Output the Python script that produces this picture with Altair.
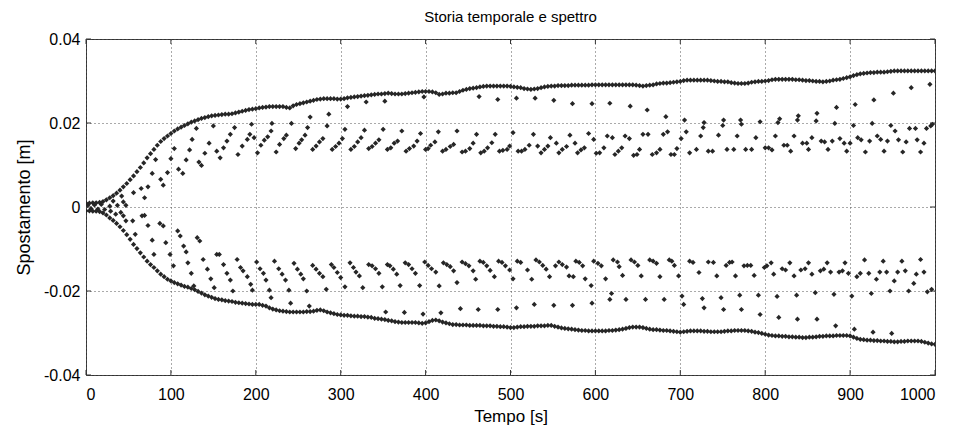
import altair as alt
import pandas as pd

TITLE = "Storia temporale e spettro"
X_TITLE = "Tempo [s]"
Y_TITLE = "Spostamento [m]"
X_TICKS = [0, 100, 200, 300, 400, 500, 600, 700, 800, 900, 1000]
Y_TICKS = [-0.04, -0.02, 0, 0.02, 0.04]

# envelope samples: one every 4 s from 0 to 1000 s, values in mm
ENV_STEP_S = 4
UPPER_ENV_MM = [
    0.9, 0.9, 1.0, 1.0, 1.1, 1.3, 1.7, 2.2, 2.7, 3.3,
    4.0, 4.8, 5.6, 6.5, 7.4, 8.4, 9.4, 10.5, 11.7, 12.7,
    13.7, 14.7, 15.6, 16.3, 16.9, 17.5, 18.1, 18.6, 19.0, 19.4,
    19.8, 20.2, 20.5, 20.8, 21.1, 21.3, 21.5, 21.7, 21.8, 21.9,
    22.0, 22.1, 22.1, 22.2, 22.4, 22.6, 22.8, 23.0, 23.2, 23.3,
    23.4, 23.6, 23.7, 23.8, 23.9, 23.9, 23.9, 23.9, 23.9, 23.7,
    23.6, 24.1, 24.4, 24.6, 24.8, 25.0, 25.2, 25.4, 25.6, 25.7,
    25.8, 25.8, 25.8, 25.8, 25.7, 25.7, 25.8, 26.0, 26.1, 26.2,
    26.3, 26.4, 26.5, 26.6, 26.7, 26.8, 26.9, 26.9, 27.0, 27.1,
    27.0, 26.9, 26.9, 26.9, 27.0, 27.1, 27.2, 27.3, 27.4, 27.5,
    27.5, 27.5, 27.4, 27.2, 26.8, 26.9, 27.1, 27.1, 27.2, 27.2,
    27.5, 27.8, 28.0, 28.2, 28.3, 28.4, 28.6, 28.7, 28.8, 28.8,
    28.8, 28.8, 28.8, 28.8, 28.8, 28.7, 28.6, 28.5, 28.4, 28.2,
    28.1, 28.0, 28.1, 28.2, 28.4, 28.6, 28.7, 28.8, 28.8, 28.9,
    28.9, 28.9, 28.9, 29.0, 29.0, 29.0, 29.0, 29.0, 29.0, 29.1,
    29.1, 29.1, 29.1, 29.1, 29.1, 29.1, 29.1, 29.1, 29.1, 29.1,
    29.1, 29.1, 29.0, 28.9, 28.8, 28.9, 29.0, 29.1, 29.3, 29.4,
    29.5, 29.5, 29.6, 29.7, 29.8, 29.9, 30.1, 30.2, 30.2, 30.2,
    30.2, 30.2, 30.2, 30.2, 30.1, 30.0, 29.9, 29.9, 29.8, 29.8,
    29.6, 29.5, 29.4, 29.4, 29.4, 29.5, 29.7, 29.8, 29.9, 29.9,
    30.0, 30.1, 30.3, 30.4, 30.4, 30.4, 30.4, 30.4, 30.4, 30.3,
    30.3, 30.2, 30.1, 30.1, 30.0, 29.9, 29.9, 29.8, 29.9, 30.0,
    30.2, 30.3, 30.4, 30.6, 30.8, 31.0, 31.3, 31.5, 31.7, 31.8,
    31.9, 32.0, 32.0, 32.1, 32.1, 32.1, 32.2, 32.3, 32.4, 32.4,
    32.4, 32.4, 32.4, 32.4, 32.4, 32.4, 32.4, 32.4, 32.4, 32.4,
    32.4,
]
LOWER_ENV_MM = [
    -0.9, -0.9, -1.0, -1.0, -1.1, -1.4, -1.9, -2.6, -3.2, -3.9,
    -4.7, -5.6, -6.6, -7.7, -8.9, -9.9, -10.9, -11.9, -12.9, -13.7,
    -14.4, -15.2, -16.0, -16.6, -17.2, -17.6, -18.0, -18.3, -18.6, -18.9,
    -19.1, -19.4, -19.7, -20.1, -20.5, -20.9, -21.2, -21.5, -21.8, -22.0,
    -22.1, -22.3, -22.4, -22.5, -22.7, -22.8, -22.9, -23.0, -23.1, -23.2,
    -23.2, -23.2, -23.4, -23.6, -24.0, -24.3, -24.5, -24.7, -24.8, -24.9,
    -25.0, -25.0, -25.0, -25.0, -25.0, -24.9, -24.9, -24.8, -24.6, -24.5,
    -24.7, -25.0, -25.2, -25.4, -25.6, -25.7, -25.8, -25.8, -25.9, -26.0,
    -26.0, -26.1, -26.1, -26.2, -26.3, -26.5, -26.6, -26.7, -26.8, -27.0,
    -27.1, -27.3, -27.4, -27.5, -27.5, -27.5, -27.5, -27.5, -27.6, -27.7,
    -27.6, -27.3, -27.0, -26.9, -27.1, -27.4, -27.6, -27.8, -28.0, -28.0,
    -28.1, -28.1, -28.1, -28.2, -28.2, -28.2, -28.2, -28.3, -28.3, -28.3,
    -28.4, -28.4, -28.5, -28.5, -28.6, -28.7, -28.7, -28.6, -28.5, -28.5,
    -28.4, -28.4, -28.4, -28.3, -28.3, -28.3, -28.2, -28.2, -28.4, -28.6,
    -28.8, -28.9, -29.0, -29.1, -29.2, -29.3, -29.4, -29.4, -29.5, -29.5,
    -29.5, -29.5, -29.5, -29.5, -29.4, -29.4, -29.3, -29.2, -29.1, -28.9,
    -28.7, -28.6, -28.6, -28.6, -28.7, -28.9, -29.1, -29.2, -29.2, -29.3,
    -29.4, -29.4, -29.5, -29.6, -29.7, -29.8, -29.7, -29.6, -29.5, -29.5,
    -29.5, -29.5, -29.6, -29.6, -29.7, -29.7, -29.7, -29.7, -29.6, -29.5,
    -29.5, -29.4, -29.4, -29.4, -29.4, -29.5, -29.6, -29.8, -29.9, -30.1,
    -30.3, -30.5, -30.6, -30.7, -30.7, -30.8, -30.8, -30.9, -30.9, -31.0,
    -31.0, -31.1, -31.1, -31.0, -31.0, -30.9, -30.8, -30.8, -30.7, -30.7,
    -30.7, -30.6, -30.6, -30.6, -30.6, -30.7, -31.0, -31.3, -31.5, -31.6,
    -31.7, -31.7, -31.8, -31.8, -31.9, -31.9, -32.0, -32.0, -32.1, -32.1,
    -32.0, -32.0, -31.9, -31.9, -31.9, -31.9, -32.0, -32.2, -32.4, -32.6,
    -32.7,
]

# scattered inner points (time s, displacement mm)
UPPER_BAND_0_200 = [
    (2, 0.4), (10, 0.5), (18, 0.6),
    (28, 0.2), (32, 1.4), (37, 0.4), (42, 2.6), (44, 1.2), (47, 0.4), (56, 3.4), (65, 4.4),
    (69, 2.2), (73, 4.8), (78, 8.0), (82, 11.3), (88, 6.6), (91, 5.2), (96, 8.2), (100, 11.5),
    (104, 13.9), (109, 9.0), (114, 8.0), (118, 11.2), (122, 13.6), (125, 16.1), (130, 18.7),
    (133, 10.7), (136, 9.9), (140, 12.8), (145, 15.2), (150, 19.3), (154, 13.3), (158, 11.7),
    (162, 14.1), (166, 15.7), (170, 17.3), (175, 18.9), (179, 12.5), (184, 14.5), (190, 16.1),
    (193, 17.3), (195, 19.7), (198, 16.5),
]
UPPER_BAND_200_400 = [
    (202, 12.9), (206, 14.7), (210, 15.9), (214, 16.7), (218, 18.1), (219, 19.9), (224, 13.1),
    (228, 14.9), (233, 16.3), (236, 17.1), (242, 19.9), (247, 13.9), (251, 15.2), (254, 16.0),
    (258, 17.1), (261, 18.9), (264, 21.4), (267, 13.7), (271, 14.5), (275, 15.5), (279, 16.3),
    (284, 19.3), (286, 22.1), (290, 13.7), (294, 14.4), (298, 15.2), (302, 16.3), (305, 18.5),
    (308, 23.9), (312, 13.7), (316, 14.4), (320, 15.5), (324, 16.5), (328, 18.3), (330, 25.0),
    (333, 13.9), (337, 14.4), (341, 15.2), (345, 16.0), (350, 18.5), (352, 25.2), (355, 13.7),
    (359, 14.1), (363, 15.2), (367, 15.7), (372, 18.1), (377, 13.3), (381, 13.9), (386, 14.5),
    (390, 15.7), (394, 17.5), (398, 26.2),
]
UPPER_BAND_400_600 = [
    (400, 13.7), (403, 13.9), (406, 14.7), (411, 15.5), (415, 17.9), (420, 13.3), (424, 13.7),
    (429, 14.4), (433, 14.9), (437, 18.1), (443, 13.1), (447, 13.3), (452, 13.9), (456, 15.2),
    (460, 17.3), (463, 26.3), (465, 12.9), (469, 13.3), (473, 14.1), (478, 15.3), (482, 17.3),
    (485, 25.6), (487, 13.3), (491, 13.5), (496, 13.7), (499, 14.5), (503, 17.7), (507, 25.9),
    (509, 13.3), (513, 13.3), (517, 13.7), (522, 14.7), (527, 17.3), (529, 25.9), (532, 14.5),
    (536, 12.9), (540, 13.7), (544, 14.5), (547, 16.5), (551, 25.4), (554, 15.2), (557, 12.9),
    (561, 13.7), (566, 14.4), (570, 17.1), (573, 24.6), (576, 15.2), (579, 12.9), (583, 13.6),
    (587, 14.1), (592, 17.5), (596, 24.6), (598, 16.1),
]
UPPER_BAND_600_800 = [
    (601, 12.8), (605, 12.9), (610, 14.1), (614, 16.9), (617, 24.7), (620, 16.5), (623, 12.5),
    (627, 13.3), (631, 14.1), (635, 16.9), (640, 16.3), (641, 24.0), (645, 12.3), (649, 12.5),
    (652, 13.7), (656, 17.3), (661, 23.1), (662, 17.3), (667, 12.5), (672, 12.9), (676, 13.7),
    (680, 17.3), (683, 21.5), (685, 17.9), (689, 12.5), (693, 12.5), (696, 13.9), (701, 16.3),
    (705, 20.7), (707, 17.9), (711, 12.9), (719, 13.7), (724, 16.9), (727, 18.9), (728, 20.1),
    (733, 13.3), (738, 13.3), (745, 17.1), (750, 19.4), (751, 20.7), (755, 13.7), (763, 13.7),
    (767, 16.9), (771, 20.7), (772, 19.7), (777, 13.7), (784, 13.7), (789, 16.5), (794, 20.3),
]
UPPER_BAND_800_1000 = [
    (800, 14.1), (804, 14.1), (808, 13.6), (812, 16.9), (815, 20.1), (817, 21.0), (822, 14.7),
    (826, 14.7), (830, 13.3), (834, 16.9), (838, 20.7), (839, 21.7), (844, 15.2), (849, 15.2),
    (851, 13.7), (855, 16.5), (860, 20.5), (861, 22.3), (866, 15.7), (870, 15.5), (874, 13.7),
    (879, 15.7), (882, 19.9), (884, 23.7), (888, 16.3), (893, 15.2), (896, 13.3), (900, 15.2),
    (904, 19.4), (906, 24.4), (909, 16.5), (913, 16.0), (918, 13.1), (923, 15.7), (926, 19.9),
    (928, 25.5), (932, 16.9), (936, 16.1), (940, 13.3), (944, 15.7), (948, 19.4), (951, 27.1),
    (953, 18.1), (957, 16.0), (962, 13.1), (966, 15.5), (970, 18.7), (972, 28.4), (977, 18.7),
    (979, 16.0), (983, 13.1), (987, 15.2), (990, 18.7), (994, 29.2), (995, 19.3), (997, 19.7),
]
LOWER_BAND_0_200 = [
    (6, -0.4), (14, -0.5), (22, -0.6),
    (29, -1.0), (35, -1.7), (41, -1.3), (44, -2.1), (47, -3.3), (55, -3.3), (58, -6.5),
    (66, -2.1), (69, -2.0), (73, -4.4), (78, -7.9), (80, -11.3), (87, -3.9), (91, -4.5),
    (94, -8.5), (99, -11.3), (103, -14.0), (108, -5.7), (111, -6.9), (115, -9.3), (118, -10.7),
    (120, -13.3), (124, -15.8), (127, -18.8), (131, -7.3), (134, -8.1), (138, -12.5),
    (143, -14.8), (147, -17.1), (151, -19.2), (154, -11.3), (157, -11.3), (162, -13.7),
    (166, -15.8), (170, -17.4), (173, -20.0), (178, -12.5), (182, -14.4), (185, -15.2),
    (190, -16.6), (194, -18.4), (196, -19.8),
]
LOWER_BAND_200_400 = [
    (201, -13.1), (205, -14.7), (209, -15.8), (212, -17.4), (216, -19.8), (218, -21.6),
    (222, -12.9), (227, -14.7), (231, -16.0), (235, -17.4), (239, -19.8), (241, -22.9),
    (245, -13.4), (249, -14.8), (253, -16.0), (256, -17.1), (260, -20.0), (263, -23.6),
    (267, -13.9), (271, -14.8), (275, -15.8), (279, -16.6), (283, -19.6), (289, -13.7),
    (292, -14.4), (296, -15.6), (300, -16.8), (305, -19.0), (311, -13.3), (315, -14.4),
    (318, -15.5), (322, -16.4), (326, -19.2), (333, -13.7), (337, -14.0), (341, -14.7),
    (345, -15.8), (349, -19.0), (353, -25.0), (355, -13.7), (358, -14.0), (362, -14.8),
    (366, -16.0), (370, -18.7), (375, -25.1), (376, -13.3), (380, -13.7), (384, -14.7),
    (388, -15.8), (393, -18.7), (397, -25.5),
]
LOWER_BAND_400_600 = [
    (399, -13.1), (403, -13.9), (407, -14.7), (412, -15.5), (416, -18.8), (418, -25.2),
    (421, -13.3), (425, -13.7), (429, -14.2), (433, -15.2), (437, -18.0), (441, -24.2),
    (443, -13.1), (447, -13.5), (451, -14.0), (456, -15.2), (459, -17.2), (462, -24.4),
    (464, -12.9), (468, -13.2), (472, -14.0), (476, -15.1), (481, -16.6), (485, -24.4),
    (486, -12.9), (490, -13.2), (494, -14.0), (499, -15.0), (503, -17.1), (507, -24.0),
    (508, -12.9), (512, -13.2), (520, -15.0), (525, -17.2), (528, -23.2), (530, -12.6),
    (534, -13.1), (538, -13.9), (542, -14.8), (546, -16.6), (551, -23.4), (553, -14.0),
    (557, -13.1), (561, -13.7), (566, -14.3), (569, -16.4), (573, -23.4), (574, -16.6),
    (577, -12.9), (581, -13.2), (585, -14.0), (588, -17.1), (595, -18.7), (596, -22.9),
]
LOWER_BAND_600_800 = [
    (598, -12.9), (603, -13.4), (607, -14.0), (612, -17.1), (617, -22.0), (619, -20.6),
    (621, -12.6), (626, -13.1), (628, -14.2), (632, -16.3), (636, -22.0), (642, -12.6),
    (646, -13.1), (650, -13.9), (654, -16.4), (659, -22.0), (664, -12.6), (668, -12.9),
    (672, -13.4), (676, -16.6), (681, -22.0), (687, -12.6), (690, -12.9), (693, -13.9),
    (698, -16.4), (702, -21.2), (704, -23.2), (711, -12.9), (715, -13.2), (722, -15.6),
    (726, -21.8), (728, -24.0), (733, -13.1), (739, -13.2), (743, -16.4), (748, -21.6),
    (751, -24.4), (754, -13.9), (758, -13.2), (761, -13.1), (765, -16.4), (770, -21.0),
    (772, -24.4), (775, -14.0), (779, -13.9), (783, -13.9), (787, -16.3), (792, -21.0),
    (794, -25.6), (799, -14.4),
]
LOWER_BAND_800_1000 = [
    (802, -14.0), (807, -13.3), (810, -16.0), (814, -21.3), (816, -26.3), (820, -14.7),
    (824, -15.0), (829, -13.3), (834, -16.4), (837, -21.0), (838, -26.7), (842, -15.0),
    (847, -14.7), (851, -13.3), (855, -16.0), (859, -20.4), (861, -26.7), (865, -15.2),
    (869, -14.8), (873, -13.3), (877, -15.5), (881, -20.8), (883, -28.3), (887, -15.5),
    (891, -15.2), (894, -13.3), (898, -15.8), (902, -21.2), (905, -29.1), (908, -16.6),
    (912, -15.8), (917, -12.6), (922, -15.8), (925, -20.6), (927, -29.8), (931, -17.2),
    (935, -15.5), (939, -12.9), (943, -15.5), (947, -20.0), (949, -30.1), (952, -17.6),
    (956, -15.5), (961, -12.9), (965, -15.2), (969, -20.0), (975, -18.2), (978, -16.0),
    (983, -12.5), (987, -15.5), (991, -20.2), (996, -19.6),
]

# ---------------------------------------------------------------- build table
rows = []
for i, v in enumerate(UPPER_ENV_MM):
    rows.append({"t": i * ENV_STEP_S, "y": v / 1000.0})
for i, v in enumerate(LOWER_ENV_MM):
    rows.append({"t": i * ENV_STEP_S, "y": v / 1000.0})
for group in (UPPER_BAND_0_200, UPPER_BAND_200_400, UPPER_BAND_400_600,
              UPPER_BAND_600_800, UPPER_BAND_800_1000,
              LOWER_BAND_0_200, LOWER_BAND_200_400, LOWER_BAND_400_600,
              LOWER_BAND_600_800, LOWER_BAND_800_1000):
    for t, v in group:
        rows.append({"t": t, "y": v / 1000.0})
df = pd.DataFrame(rows)

FONT = "Liberation Sans"
xs = alt.Scale(domain=[0, 1000], nice=False, zero=False)
ys = alt.Scale(domain=[-0.04, 0.04], nice=False, zero=False)
x_axis = alt.Axis(values=X_TICKS, title=X_TITLE, format="d", labelPadding=11,
                  titlePadding=6, titleFontSize=17)
y_axis = alt.Axis(values=Y_TICKS, title=Y_TITLE, labelPadding=6, titlePadding=10,
                  titleFontSize=18,
                  labelExpr="datum.value == 0 ? '0' : (datum.value < 0 ? '-' + format(-datum.value, '.2f') : format(datum.value, '.2f'))")

points = alt.Chart(df).mark_point(
    shape="diamond", filled=True, size=27, color="#262626", opacity=1, clip=True
).encode(
    x=alt.X("t:Q", scale=xs, axis=x_axis),
    y=alt.Y("y:Q", scale=ys, axis=y_axis),
)

# inward tick marks (MATLAB style) on all four sides
TICK_Y = 0.08 / 336 * 5
TICK_X = 1000 / 849 * 5
xt_rows = []
for t in X_TICKS:
    xt_rows.append({"t": t, "y": -0.04, "y2": -0.04 + TICK_Y})
    xt_rows.append({"t": t, "y": 0.04, "y2": 0.04 - TICK_Y})
yt_rows = []
for v in Y_TICKS:
    yt_rows.append({"y": v, "t": 0, "t2": TICK_X})
    yt_rows.append({"y": v, "t": 1000, "t2": 1000 - TICK_X})

xticks = alt.Chart(pd.DataFrame(xt_rows)).mark_rule(color="#333333", strokeWidth=1).encode(
    x=alt.X("t:Q", scale=xs, axis=x_axis),
    y=alt.Y("y:Q", scale=ys, axis=y_axis),
    y2="y2:Q",
)
yticks = alt.Chart(pd.DataFrame(yt_rows)).mark_rule(color="#333333", strokeWidth=1).encode(
    y=alt.Y("y:Q", scale=ys, axis=y_axis),
    x=alt.X("t:Q", scale=xs, axis=x_axis),
    x2="t2:Q",
)

chart = alt.layer(points, xticks, yticks).properties(
    width=849,
    height=336,
    autosize=alt.AutoSizeParams(type="none"),
    padding={"left": 78, "top": 31, "right": 12, "bottom": 51},
    title=alt.TitleParams(TITLE, font=FONT, fontSize=15, fontWeight="normal",
                          color="black", offset=6, anchor="middle"),
).configure_axis(
    labelFont=FONT, labelFontSize=16, labelColor="black",
    titleFont=FONT, titleFontWeight="normal", titleColor="black",
    grid=True, gridDash=[1, 3], gridColor="#555555", gridOpacity=1, gridWidth=1,
    ticks=False, domain=False,
).configure_view(stroke="#333333", strokeWidth=1)

chart.save("out.html", embed_options={"renderer": "svg", "actions": False})
